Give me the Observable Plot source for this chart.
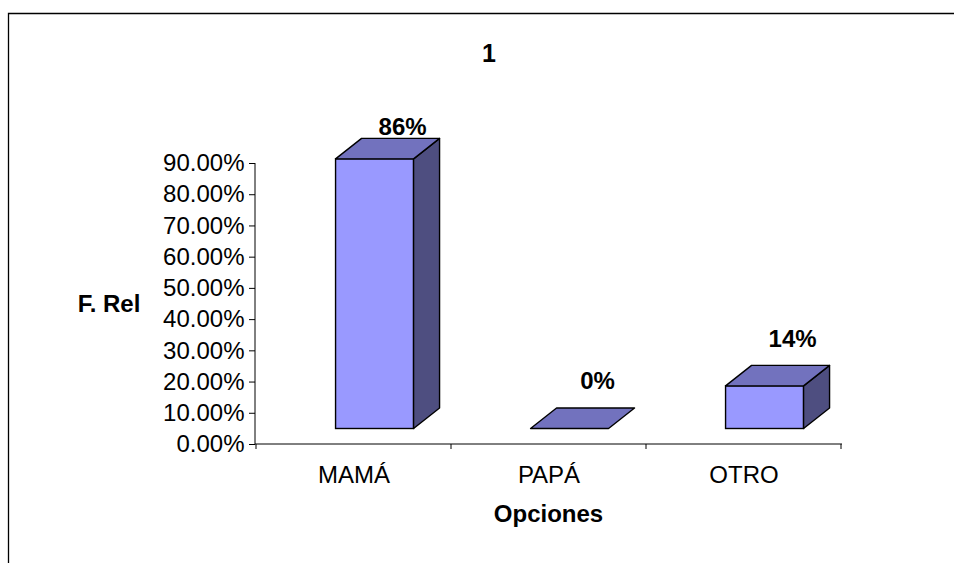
<!DOCTYPE html>
<html>
<head>
<meta charset="utf-8">
<script src="https://cdn.jsdelivr.net/npm/d3@7"></script>
<script src="https://cdn.jsdelivr.net/npm/@observablehq/plot@0.6"></script>
<style>
  html, body { margin: 0; padding: 0; background: #fff; }
  #chart { position: relative; width: 954px; height: 563px; overflow: hidden; }
</style>
</head>
<body>
<div id="chart"></div>
<script>
// ---- data ----
const categories = ["MAMÁ", "PAPÁ", "OTRO"];
const values = [0.8636, 0.0, 0.1364];
const valueLabels = ["86%", "0%", "14%"];
const yTicks = [0, 0.1, 0.2, 0.3, 0.4, 0.5, 0.6, 0.7, 0.8, 0.9];
const titleText = "1";
const yTitle = "F. Rel";
const xTitle = "Opciones";

const data = categories.map((c, i) => ({category: c, value: values[i], label: valueLabels[i]}));

const FONT = "'Liberation Sans', Arial, sans-serif";
const frontColor = "#9999ff";
const topColor = "#7272be";
const sideColor = "#4e4e80";

function bars3d(index, scales, values_, dimensions) {
  const x = scales.x, y = scales.y;
  const {width, height, marginLeft, marginRight, marginTop, marginBottom} = dimensions;
  const bw = x.bandwidth ? x.bandwidth() : (width - marginLeft - marginRight) / categories.length;
  const g = d3.create("svg:g");
  // chart frame
  g.append("path").attr("d", `M8.5,${height + 5}V13.5H${width + 5}`)
    .attr("fill", "none").attr("stroke", "#000").attr("stroke-width", 1.3);
  // axis lines
  const x0 = marginLeft, x1 = width - marginRight;
  const yBase = y(0), yTop = y(yTicks[yTicks.length - 1]);
  g.append("line").attr("x1", x0).attr("x2", x0).attr("y1", yTop).attr("y2", yBase).attr("stroke", "#000");
  g.append("line").attr("x1", x0).attr("x2", x1).attr("y1", yBase).attr("y2", yBase).attr("stroke", "#000");
  // x ticks at band edges
  const edges = categories.map(c => x(c)).concat([x(categories[categories.length - 1]) + bw]);
  for (const e of edges) {
    g.append("line").attr("x1", e).attr("x2", e).attr("y1", yBase).attr("y2", yBase + 5).attr("stroke", "#000");
  }
  // 3D bars
  const dx = 26, dy = -20.5, lift = 15.5;
  for (const d of data) {
    const b = x(d.category);
    const fl = b + bw * 0.408, fw = bw * 0.40, fr = fl + fw;
    const bottom = y(0) - lift, top = y(d.value) - lift;
    const sw = 1.4;
    if (top < bottom - 0.5) {
      g.append("rect").attr("x", fl).attr("y", top).attr("width", fw).attr("height", bottom - top)
        .attr("fill", frontColor).attr("stroke", "#000").attr("stroke-width", sw);
      g.append("path").attr("d", `M${fr},${bottom}L${fr + dx},${bottom + dy}L${fr + dx},${top + dy}L${fr},${top}Z`)
        .attr("fill", sideColor).attr("stroke", "#000").attr("stroke-width", sw).attr("stroke-linejoin", "round");
    }
    g.append("path").attr("d", `M${fl},${top}L${fl + dx},${top + dy}L${fr + dx},${top + dy}L${fr},${top}Z`)
      .attr("fill", topColor).attr("stroke", "#000").attr("stroke-width", sw).attr("stroke-linejoin", "round");
    // value label
    const lx = (fl + fr) / 2 + dx / 2 + 15;
    const ly = Math.max(top + dy - 27, 127);
    g.append("text").attr("x", lx).attr("y", ly).attr("dy", "0.35em")
      .attr("text-anchor", "middle").attr("font-weight", "bold").attr("font-size", 24)
      .attr("font-family", FONT).attr("fill", "#000").text(d.label);
  }
  // titles
  g.append("text").attr("x", 489).attr("y", 53).attr("dy", "0.35em").attr("text-anchor", "middle")
    .attr("font-weight", "bold").attr("font-size", 25).attr("font-family", FONT).text(titleText);
  g.append("text").attr("x", 109).attr("y", 304).attr("dy", "0.35em").attr("text-anchor", "middle")
    .attr("font-weight", "bold").attr("font-size", 24).attr("font-family", FONT).text(yTitle);
  g.append("text").attr("x", (x0 + x1) / 2).attr("y", 514).attr("dy", "0.35em").attr("text-anchor", "middle")
    .attr("font-weight", "bold").attr("font-size", 24).attr("font-family", FONT).text(xTitle);
  return g.node();
}

const chart = Plot.plot({
  width: 954,
  height: 563,
  marginLeft: 255,
  marginRight: 112,
  marginTop: 163,
  marginBottom: 119,
  style: {fontFamily: FONT, fontSize: "24px", color: "#000", background: "#fff", overflow: "visible"},
  x: {type: "band", domain: categories, padding: 0, label: null},
  y: {domain: [0, 0.9], label: null},
  marks: [
    Plot.axisY({ticks: yTicks, tickSize: 6, tickPadding: 5, tickFormat: d3.format(".2%"), fontSize: 24, label: null, strokeOpacity: 1}),
    Plot.axisX({tickSize: 0, tickPadding: 21, fontSize: 24, label: null}),
    bars3d
  ]
});
document.getElementById("chart").appendChild(chart);
</script>
</body>
</html>
